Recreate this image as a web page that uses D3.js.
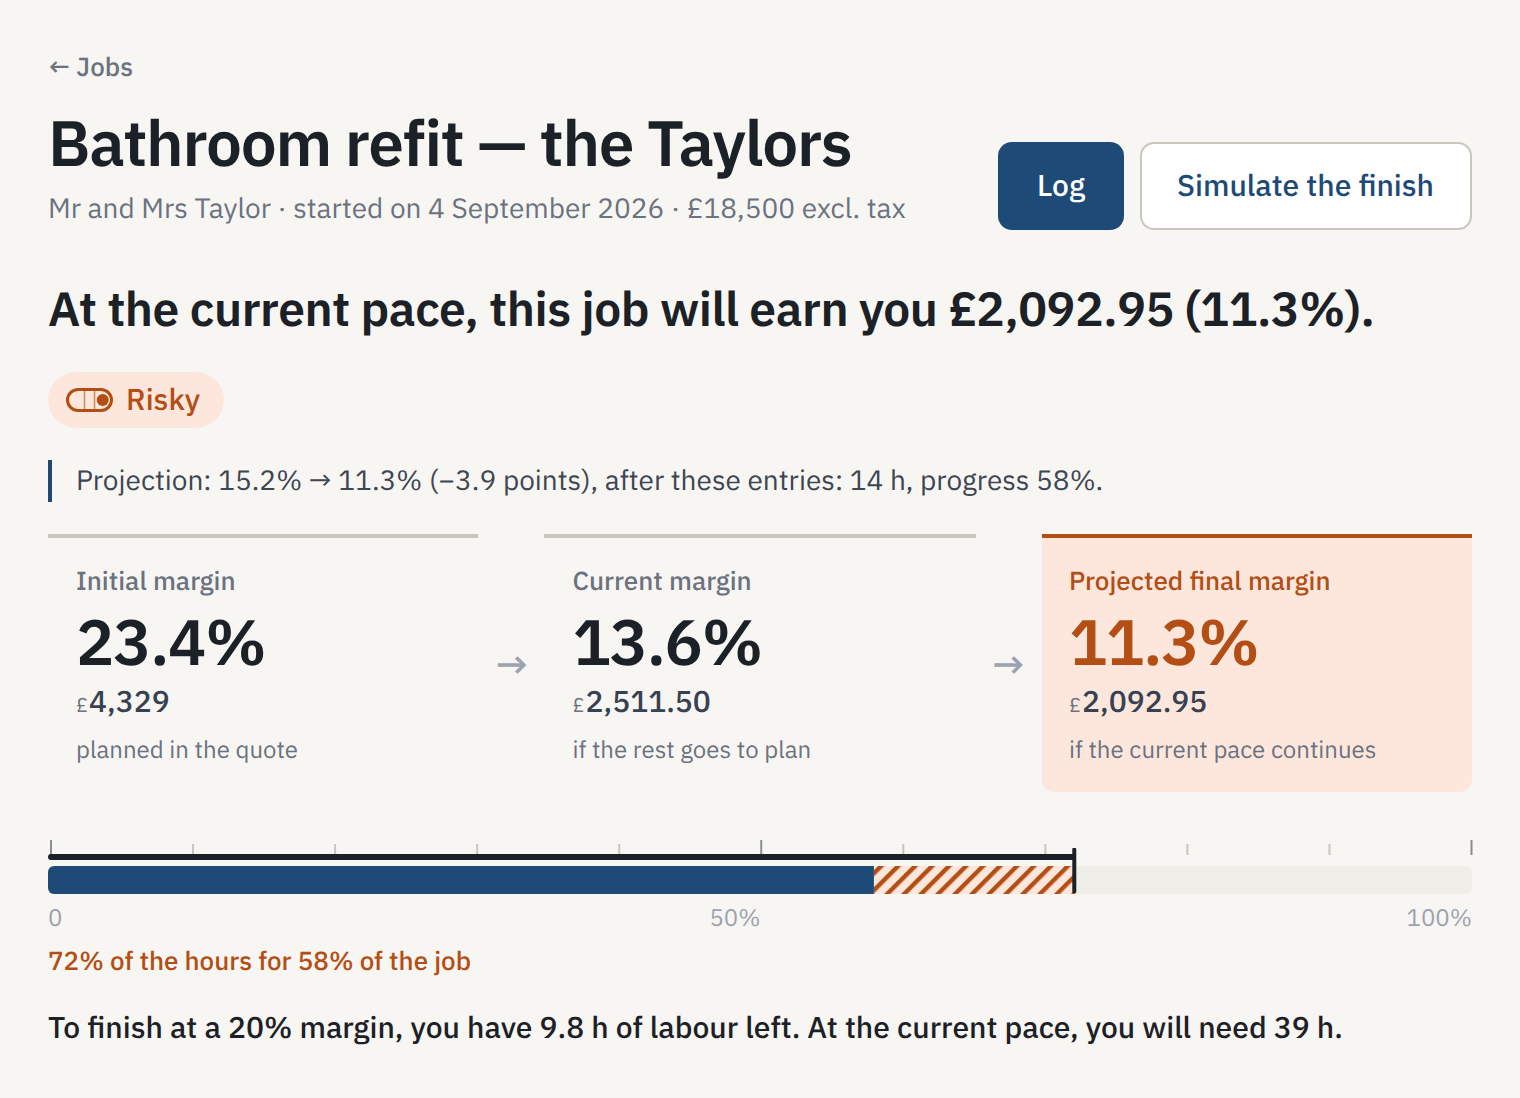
<!DOCTYPE html>
<html lang="en">
<head>
<meta charset="utf-8">
<title>Bathroom refit — the Taylors</title>
<script src="https://cdn.jsdelivr.net/npm/d3@7/dist/d3.min.js"></script>
<style>
  html, body { margin: 0; padding: 0; background: #f8f6f2; }
  svg { display: block; font-family: "IBM Plex Sans", "Noto Sans", sans-serif; text-rendering: geometricPrecision; }
</style>
</head>
<body>
<div id="chart"></div>
<script>
// Data
const marginLabels = ["Initial margin", "Current margin", "Projected final margin"];
const marginPercents = ["23.4%", "13.6%", "11.3%"];
const marginAmounts = ["4,329", "2,511.50", "2,092.95"];
const marginNotes = ["planned in the quote", "if the rest goes to plan", "if the current pace continues"];

const tickValues = [0, 10, 20, 30, 40, 50, 60, 70, 80, 90, 100];
const majorTicks = [0, 50, 100];
const scaleLabels = ["0", "50%", "100%"];
const progressDone = 58;
const hoursUsed = 72;

const width = 1520;
const height = 1098;

const navy = "#1e4a78";
const orange = "#b34e14";
const pale = "#fde7dd";
const ink = "#1c2127";
const grey = "#6b7280";
const lightGrey = "#9ca3af";
const rule = "#c9c6be";

const svg = d3.select("#chart").append("svg")
    .attr("width", width)
    .attr("height", height)
    .attr("viewBox", [0, 0, width, height]);

svg.append("rect").attr("width", width).attr("height", height).attr("fill", "#f8f6f2");

// hatch for the overrun part of the bar
const defs = svg.append("defs");
const hatch = defs.append("pattern")
    .attr("id", "hatch")
    .attr("patternUnits", "userSpaceOnUse")
    .attr("width", 12)
    .attr("height", 12)
    .attr("patternTransform", "rotate(45) translate(9.3 0)");
hatch.append("rect").attr("width", 12).attr("height", 12).attr("fill", pale);
hatch.append("rect").attr("width", 4.4).attr("height", 12).attr("fill", orange);

function label(str, x, y, size, weight, color, anchor, spacing) {
    return svg.append("text")
        .attr("x", x)
        .attr("y", y)
        .attr("font-size", size)
        .attr("font-weight", weight)
        .attr("fill", color)
        .attr("text-anchor", anchor || "start")
        .attr("letter-spacing", spacing || 0)
        .text(str);
}

// Header
label("← Jobs", 48, 76, 26, 500, grey);
label("Bathroom refit — the Taylors", 48, 166, 64, 600, ink, "start", -1.28);
label("Mr and Mrs Taylor · started on 4 September 2026 · £18,500 excl. tax", 48, 218, 28, 400, grey);

svg.append("rect").attr("x", 998).attr("y", 142).attr("width", 126).attr("height", 88).attr("rx", 14).attr("fill", navy);
label("Log", 1061, 196, 30, 500, "#ffffff", "middle");
svg.append("rect").attr("x", 1141).attr("y", 143).attr("width", 330).attr("height", 86).attr("rx", 13)
    .attr("fill", "#ffffff").attr("stroke", rule).attr("stroke-width", 2);
label("Simulate the finish", 1305.5, 196, 30, 500, navy, "middle");

label("At the current pace, this job will earn you £2,092.95 (11.3%).", 48, 326, 48, 600, ink, "start", -0.48);

// Status pill
svg.append("rect").attr("x", 48).attr("y", 372).attr("width", 176).attr("height", 56).attr("rx", 28).attr("fill", pale);
const icon = svg.append("g").attr("transform", "translate(67.5, 389.5)")
    .attr("fill", "none").attr("stroke", orange);
icon.append("rect").attr("width", 44).attr("height", 21).attr("rx", 10.5).attr("stroke-width", 3);
icon.append("line").attr("x1", 17).attr("x2", 17).attr("y1", -1).attr("y2", 22).attr("stroke-width", 1.5).attr("opacity", 0.6);
icon.append("line").attr("x1", 27).attr("x2", 27).attr("y1", -1).attr("y2", 22).attr("stroke-width", 1.5).attr("opacity", 0.6);
icon.append("circle").attr("cx", 35.2).attr("cy", 10.5).attr("r", 6).attr("fill", orange).attr("stroke", "none");
label("Risky", 126, 410, 30, 500, orange);

// Projection line
svg.append("rect").attr("x", 48).attr("y", 460).attr("width", 4).attr("height", 42).attr("fill", navy);
label("Projection: 15.2% → 11.3% (−3.9 points), after these entries: 14 h, progress 58%.", 76, 490, 28, 400, "#3d4652");

// Margin cards
const cardX = [48, 544, 1042];
const cardW = [430, 432, 430];
const textX = [76, 572.5, 1069];

svg.append("path")
    .attr("d", "M1042,538H1472V780A12,12 0 0 1 1460,792H1054A12,12 0 0 1 1042,780Z")
    .attr("fill", pale);

marginLabels.forEach((d, i) => {
    const last = i === marginLabels.length - 1;
    svg.append("rect").attr("x", cardX[i]).attr("y", 534).attr("width", cardW[i]).attr("height", 4)
        .attr("fill", last ? orange : rule);
    label(d, textX[i], 590, 26, 500, last ? orange : grey);
    label(marginPercents[i], textX[i], 665, 64, 600, last ? orange : ink, "start", -1.28);
    label("£", textX[i], 712, 20, 400, grey);
    label(marginAmounts[i], textX[i] + 13, 712, 30, 500, "#374151");
    label(marginNotes[i], textX[i], 758, 24, 400, grey);
});

// Arrows between the cards
[512, 1008.5].forEach(x => {
    label("→", x, 679, 40, 500, lightGrey, "middle");
});

// Progress bar
const x = d3.scaleLinear().domain([0, 100]).range([48, 1472]);
const xTicks = d3.scaleLinear().domain([0, 100]).range([50.5, 1471]);

const tickAxis = svg.append("g")
    .attr("transform", "translate(0, 855)")
    .call(d3.axisTop(xTicks).tickValues(tickValues).tickSize(11).tickFormat(""))
    .call(g => g.select(".domain").remove());
tickAxis.selectAll(".tick line")
    .attr("stroke", d => majorTicks.includes(d) ? "#8a8d92" : rule)
    .attr("stroke-width", 2)
    .attr("y2", d => majorTicks.includes(d) ? -15 : -11);

const barY = 866;
const barH = 28;

svg.append("rect").attr("x", x(0)).attr("y", barY).attr("width", x(100) - x(0)).attr("height", barH)
    .attr("rx", 6).attr("fill", "#efeee9");
svg.append("rect").attr("x", x(progressDone)).attr("y", barY).attr("width", x(hoursUsed) - x(progressDone) + 2).attr("height", barH)
    .attr("fill", "url(#hatch)");
svg.append("path")
    .attr("d", `M${x(progressDone)},${barY}H${x(0) + 6}a6,6 0 0 0 -6,6v${barH - 12}a6,6 0 0 0 6,6H${x(progressDone)}Z`)
    .attr("fill", navy);

// hours line with its end cap
svg.append("rect").attr("x", x(0)).attr("y", 854).attr("width", x(hoursUsed) + 2 - x(0)).attr("height", 6).attr("rx", 3).attr("fill", ink);
svg.append("rect").attr("x", x(hoursUsed) - 1).attr("y", 848).attr("width", 4).attr("height", 45).attr("rx", 1).attr("fill", ink);

label(scaleLabels[0], 48, 926, 24, 400, lightGrey);
label(scaleLabels[1], 735, 926, 24, 400, lightGrey, "middle");
label(scaleLabels[2], 1472, 926, 24, 400, lightGrey, "end");

label("72% of the hours for 58% of the job", 48, 970, 26, 500, orange);
label("To finish at a 20% margin, you have 9.8 h of labour left. At the current pace, you will need 39 h.", 48, 1038, 30, 500, ink);
</script>
</body>
</html>
